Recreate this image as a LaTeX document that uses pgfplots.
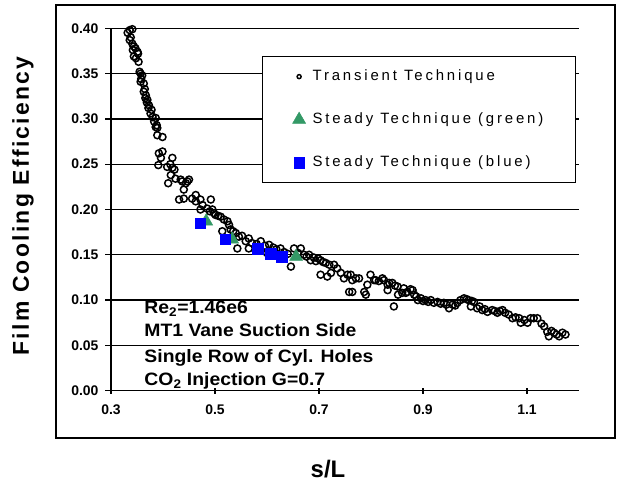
\documentclass[border=0pt]{standalone}
\usepackage{fontspec}
\setmainfont{Liberation Sans}
\newfontfamily\legendfont[LetterSpace=19]{Liberation Sans}
\newfontfamily\ylabfont[LetterSpace=10]{Liberation Sans}
\newfontfamily\annfont[FakeStretch=1.08]{Liberation Sans}
\usepackage{pgfplots}
\usepackage{pgfplotstable}
\pgfplotsset{compat=1.18}
\definecolor{seagreen}{RGB}{51,153,102}
\definecolor{pureblue}{RGB}{0,0,255}

\pgfplotstableread{
s eta
0.332 0.395
0.336 0.398
0.340 0.402
0.341 0.399
0.338 0.390
0.336 0.387
0.341 0.383
0.344 0.380
0.342 0.376
0.347 0.378
0.351 0.374
0.344 0.369
0.348 0.367
0.353 0.363
0.352 0.372
0.355 0.352
0.357 0.350
0.360 0.348
0.358 0.344
0.357 0.341
0.363 0.339
0.363 0.330
0.365 0.333
0.367 0.326
0.366 0.323
0.370 0.321
0.369 0.318
0.373 0.315
0.372 0.312
0.378 0.310
0.376 0.306
0.380 0.302
0.386 0.301
0.383 0.297
0.386 0.291
0.389 0.290
0.388 0.293
0.389 0.282
0.399 0.280
0.392 0.262
0.399 0.264
0.396 0.257
0.391 0.249
0.418 0.257
0.408 0.247
0.418 0.246
0.414 0.250
0.422 0.244
0.410 0.229
0.415 0.238
0.424 0.234
0.434 0.233
0.444 0.229
0.437 0.231
0.450 0.233
0.447 0.231
0.440 0.222
0.431 0.211
0.440 0.212
0.456 0.212
0.463 0.216
0.463 0.209
0.472 0.211
0.476 0.205
0.492 0.211
0.472 0.200
0.485 0.201
0.495 0.200
0.490 0.198
0.501 0.194
0.498 0.196
0.506 0.193
0.511 0.192
0.517 0.189
0.524 0.187
0.527 0.183
0.514 0.176
0.530 0.178
0.535 0.176
0.540 0.174
0.546 0.170
0.552 0.171
0.565 0.168
0.559 0.165
0.543 0.157
0.565 0.157
0.571 0.163
0.580 0.162
0.588 0.165
0.596 0.160
0.604 0.161
0.612 0.158
0.618 0.156
0.626 0.157
0.600 0.152
0.633 0.153
0.640 0.151
0.646 0.137
0.652 0.157
0.665 0.157
0.660 0.152
0.671 0.150
0.676 0.148
0.681 0.150
0.684 0.144
0.690 0.147
0.694 0.143
0.698 0.146
0.703 0.144
0.708 0.142
0.713 0.141
0.720 0.139
0.729 0.139
0.735 0.135
0.703 0.128
0.716 0.126
0.723 0.130
0.742 0.130
0.748 0.124
0.755 0.128
0.761 0.128
0.764 0.122
0.771 0.124
0.777 0.124
0.758 0.109
0.764 0.109
0.787 0.109
0.790 0.106
0.793 0.117
0.799 0.128
0.806 0.122
0.809 0.122
0.815 0.121
0.822 0.124
0.825 0.122
0.832 0.117
0.835 0.119
0.841 0.119
0.832 0.111
0.844 0.093
0.846 0.116
0.851 0.115
0.852 0.106
0.860 0.108
0.863 0.113
0.867 0.108
0.870 0.109
0.876 0.112
0.880 0.111
0.883 0.106
0.887 0.104
0.890 0.100
0.896 0.102
0.900 0.099
0.905 0.100
0.910 0.098
0.915 0.100
0.921 0.097
0.928 0.098
0.934 0.096
0.940 0.097
0.945 0.095
0.950 0.091
0.957 0.095
0.962 0.094
0.966 0.097
0.972 0.100
0.979 0.102
0.984 0.101
0.988 0.100
0.994 0.099
0.998 0.098
0.992 0.093
1.004 0.091
1.009 0.093
1.014 0.089
1.019 0.090
1.024 0.087
1.033 0.089
1.038 0.088
1.043 0.086
1.048 0.088
1.053 0.089
1.058 0.086
1.065 0.084
1.072 0.080
1.078 0.081
1.085 0.080
1.088 0.075
1.095 0.078
1.101 0.075
1.107 0.080
1.113 0.080
1.120 0.080
1.128 0.074
1.133 0.071
1.139 0.065
1.142 0.060
1.147 0.066
1.152 0.064
1.157 0.062
1.162 0.060
1.168 0.064
1.174 0.062
}\transient

\pgfplotstableread{
s eta
0.483 0.187
0.533 0.167
0.656 0.148
}\steadygreen

\pgfplotstableread{
s eta
0.472 0.185
0.520 0.167
0.582 0.157
0.607 0.151
0.628 0.148
}\steadyblue

\begin{document}
\begin{tikzpicture}
\useasboundingbox (0,0) rectangle (617bp,483bp);
\draw[line width=2bp] (56bp,45bp) rectangle (615bp,478bp);
\node[rotate=90, font=\fontsize{23}{23}\ylabfont\bfseries] at (23bp,277bp) {Film Cooling Efficiency};
\node[font=\fontsize{24}{24}\selectfont\bfseries] at (328bp,14bp) {s/L};
\begin{axis}[
  at={(111bp,92.3bp)}, anchor=south west,
  width=468bp, height=362.4bp, scale only axis,
  xmin=0.3, xmax=1.2, ymin=0, ymax=0.4,
  axis lines*=left,
  axis line style={line width=1.3bp, black},
  xtick={0.3,0.5,0.7,0.9,1.1},
  ytick={0,0.05,0.1,0.15,0.2,0.25,0.3,0.35,0.4},
  scaled ticks=false,
  ymajorgrids, major grid style={line width=1.3bp, black},
  tick style={line width=1.3bp, black},
  major tick length=6bp,
  xtick align=center, ytick align=outside,
  ticklabel style={font=\fontsize{14}{14}\selectfont\bfseries},
  /pgf/number format/assume math mode=true,
  yticklabel style={xshift=-3bp, /pgf/number format/.cd, fixed, fixed zerofill, precision=2},
  xticklabel style={yshift=-8bp, /pgf/number format/.cd, fixed, fixed zerofill, precision=1},
  legend cell align=left,
  legend style={at={(rel axis cs:0.3226,0.9236)}, anchor=north west,
    draw=black, line width=1.3bp, fill=white,
    inner xsep=30bp, inner ysep=11bp, row sep=25bp, column sep=5bp,
    font=\fontsize{15}{18}\legendfont,
    nodes={inner sep=2bp, text height=11bp, text depth=3bp}},
]
\addplot[only marks, mark=o, mark size=3.5bp, black, line width=1.5bp,
  legend image post style={mark size=2bp}] table[x=s,y=eta] {\transient};
\addlegendentry{Transient Technique}
\addplot[only marks, mark=triangle*, mark size=7.5bp, draw=seagreen, fill=seagreen, line width=0.5bp] table[x=s,y=eta] {\steadygreen};
\addlegendentry{Steady Technique (green)}
\addplot[only marks, mark=square*, mark size=5.3bp, draw=pureblue, fill=pureblue, line width=0.5bp] table[x=s,y=eta] {\steadyblue};
\addlegendentry{Steady Technique (blue)}
\begin{scope}[font=\fontsize{18}{18}\annfont\bfseries]
\node[anchor=base west] at (axis cs:0.3576,0.0854) {Re\textsubscript{2}=1.46e6};
\node[anchor=base west] at (axis cs:0.3576,0.0596) {MT1 Vane Suction Side};
\node[anchor=base west] at (axis cs:0.3576,0.0309) {Single Row of Cyl. Holes};
\node[anchor=base west] at (axis cs:0.3576,0.0052) {CO\textsubscript{2} Injection G=0.7};
\end{scope}
\end{axis}
\end{tikzpicture}
\end{document}
